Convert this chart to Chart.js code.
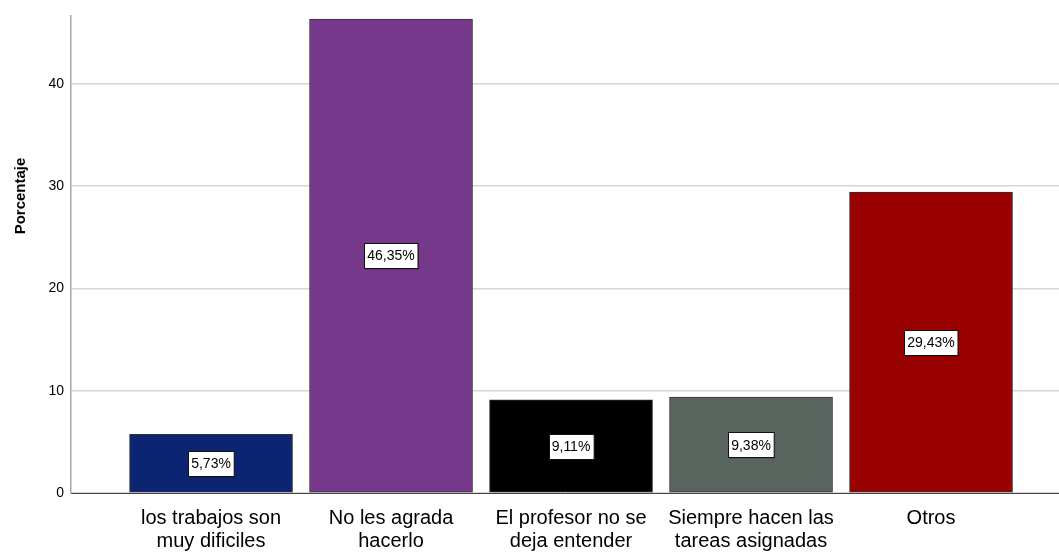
<!DOCTYPE html>
<html>
<head>
<meta charset="utf-8">
<script src="https://cdn.jsdelivr.net/npm/chart.js@4/dist/chart.umd.min.js"></script>
<style>
  html, body { margin: 0; padding: 0; background: #fff; }
  #wrap { width: 1059px; height: 552px; position: relative; }
</style>
</head>
<body>
<div id="wrap"><canvas id="c" width="1059" height="552"></canvas></div>
<script>
const categories = [
  ["los trabajos son", "muy dificiles"],
  ["No les agrada", "hacerlo"],
  ["El profesor no se", "deja entender"],
  ["Siempre hacen las", "tareas asignadas"],
  ["Otros"]
];
const percentages = [5.73, 46.35, 9.11, 9.38, 29.43];
const barColors = ["#0c2573", "#76388a", "#000000", "#5a645f", "#990000"];
const yTicks = [0, 10, 20, 30, 40];
const yTitle = "Porcentaje";

const FONT = "'Liberation Sans', Arial, sans-serif";

const labelPlugin = {
  id: 'valueBoxes',
  afterDatasetsDraw(chart) {
    const ctx = chart.ctx;
    const meta = chart.getDatasetMeta(0);
    ctx.save();
    ctx.font = "14px " + FONT;
    ctx.textAlign = 'center';
    ctx.textBaseline = 'middle';
    meta.data.forEach((bar, i) => {
      const txt = percentages[i].toFixed(2).replace('.', ',') + '%';
      const cy = (bar.y + bar.base) / 2;
      const w = ctx.measureText(txt).width + 6;
      const h = 25;
      const x0 = Math.round(bar.x - w / 2) + 0.5;
      const y0 = Math.round(cy - h / 2) + 0.5;
      ctx.fillStyle = 'rgba(0,0,0,0.25)';
      ctx.fillRect(x0 + 1, y0 + 1, w, h);
      ctx.fillStyle = '#ffffff';
      ctx.fillRect(x0, y0, w, h);
      ctx.strokeStyle = '#111';
      ctx.lineWidth = 1;
      ctx.strokeRect(x0, y0, w, h);
      ctx.fillStyle = '#000';
      ctx.fillText(txt, bar.x, cy + 1);
    });
    ctx.restore();
  }
};

const titlePlugin = {
  id: 'yTitle',
  afterDraw(chart) {
    const ctx = chart.ctx;
    ctx.save();
    ctx.translate(21, 196);
    ctx.rotate(-Math.PI / 2);
    ctx.font = "bold 15px " + FONT;
    ctx.fillStyle = '#000';
    ctx.textAlign = 'center';
    ctx.textBaseline = 'middle';
    ctx.fillText(yTitle, 0, 0);
    ctx.restore();
  }
};

new Chart(document.getElementById('c'), {
  type: 'bar',
  data: {
    datasets: [{
      data: percentages.map((v, i) => ({ x: i, y: v })),
      backgroundColor: barColors,
      borderColor: '#333333',
      borderWidth: 1,
      borderSkipped: false,
      barThickness: 163
    }]
  },
  options: {
    responsive: false,
    animation: false,
    events: [],
    layout: { padding: { top: 13, right: 0, left: 0, bottom: 0 } },
    plugins: { legend: { display: false }, tooltip: { enabled: false } },
    scales: {
      x: {
        type: 'linear',
        offset: false,
        min: -0.778,
        max: 4.711,
        grid: { display: false, drawTicks: false, offset: false },
        border: { display: true, color: '#444444', width: 1 },
        afterBuildTicks(scale) { scale.ticks = categories.map((_, i) => ({ value: i })); },
        afterFit(scale) { scale.height = 59; },
        ticks: {
          autoSkip: false,
          maxRotation: 0,
          padding: 14,
          color: '#000',
          font: { family: FONT, size: 20, lineHeight: 1.15 },
          callback: (v) => categories[v] || ''
        }
      },
      y: {
        min: 0,
        max: 46.7,
        grid: { color: '#d6d6d6', lineWidth: 1.5, drawTicks: false },
        border: { display: true, color: '#a8a8a8', width: 1.5 },
        afterBuildTicks(scale) { scale.ticks = yTicks.map(v => ({ value: v })); },
        afterFit(scale) { scale.width = 71; },
        ticks: {
          padding: 7,
          color: '#000',
          font: { family: FONT, size: 14 }
        }
      }
    }
  },
  plugins: [labelPlugin, titlePlugin]
});
</script>
</body>
</html>
